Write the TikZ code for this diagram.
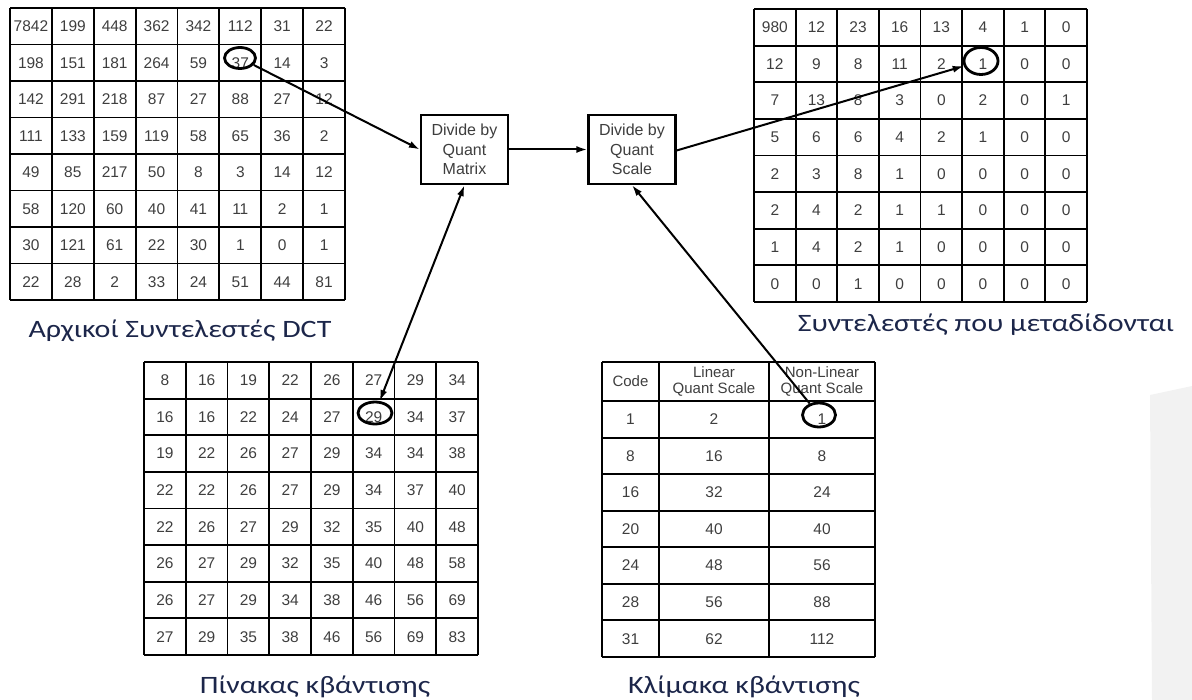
\documentclass[tikz,border=0pt]{standalone}
\usepackage{fontspec}
\setmainfont{Carlito}
\newfontfamily\cellfont{Liberation Sans}
\usetikzlibrary{arrows.meta,shapes.geometric}

\definecolor{captionblue}{RGB}{28,38,74}
\definecolor{digitgray}{RGB}{62,62,62}

\newcommand\widecap[1]{\scalebox{1.2}[1]{#1}}

\tikzset{
  gridline/.style={line width=1.9pt, black},
  cell/.style={font=\cellfont\fontsize{15.5}{17}\selectfont, text=digitgray, inner sep=0pt},
  headcell/.style={font=\cellfont\fontsize{15}{16.5}\selectfont, text=digitgray, inner sep=0pt, align=center},
  ring/.style={ellipse, draw, line width=2.8pt, inner sep=0pt},
  procbox/.style={draw, line width=2.3pt, minimum width=87pt, minimum height=69pt, inner sep=0pt,
    align=center, font=\cellfont\fontsize{16}{19.5}\selectfont, text=digitgray},
  conn/.style={line width=2pt, -{Latex[length=11pt,width=7pt]}},
  caption/.style={font=\fontsize{25}{29}\selectfont, text=captionblue, inner sep=0pt}
}

\begin{document}
\begin{tikzpicture}[x=1pt,y=-1pt]
\useasboundingbox (0,0) rectangle (1192,700);

% faint shadow at the right edge
\fill[black!5] (1150,395) -- (1192,386) -- (1192,700) -- (1152,700) -- cycle;

% ---------- original DCT coefficients ----------
\foreach \row [count=\r] in {
  {7842,199,448,362,342,112,31,22},
  {198,151,181,264,59,37,14,3},
  {142,291,218,87,27,88,27,12},
  {111,133,159,119,58,65,36,2},
  {49,85,217,50,8,3,14,12},
  {58,120,60,40,41,11,2,1},
  {30,121,61,22,30,1,0,1},
  {22,28,2,33,24,51,44,81}} {
  \foreach \v [count=\c] in \row {
    \node[cell] at ({10+(\c-0.5)*41.875},{8+(\r-0.5)*36.5}) {\v};
  }
}
\foreach \i in {0,...,8} {
  \draw[gridline] ({10+\i*41.875},8) -- ({10+\i*41.875},300);
  \draw[gridline] (10,{8+\i*36.5}) -- (345,{8+\i*36.5});
}

% ---------- transmitted coefficients ----------
\foreach \row [count=\r] in {
  {980,12,23,16,13,4,1,0},
  {12,9,8,11,2,1,0,0},
  {7,13,8,3,0,2,0,1},
  {5,6,6,4,2,1,0,0},
  {2,3,8,1,0,0,0,0},
  {2,4,2,1,1,0,0,0},
  {1,4,2,1,0,0,0,0},
  {0,0,1,0,0,0,0,0}} {
  \foreach \v [count=\c] in \row {
    \node[cell] at ({754+(\c-0.5)*41.625},{9+(\r-0.5)*36.625}) {\v};
  }
}
\foreach \i in {0,...,8} {
  \draw[gridline] ({754+\i*41.625},9) -- ({754+\i*41.625},302);
  \draw[gridline] (754,{9+\i*36.625}) -- (1087,{9+\i*36.625});
}

% ---------- quantiser matrix ----------
\foreach \row [count=\r] in {
  {8,16,19,22,26,27,29,34},
  {16,16,22,24,27,29,34,37},
  {19,22,26,27,29,34,34,38},
  {22,22,26,27,29,34,37,40},
  {22,26,27,29,32,35,40,48},
  {26,27,29,32,35,40,48,58},
  {26,27,29,34,38,46,56,69},
  {27,29,35,38,46,56,69,83}} {
  \foreach \v [count=\c] in \row {
    \node[cell] at ({144+(\c-0.5)*41.75},{362+(\r-0.5)*36.625}) {\v};
  }
}
\foreach \i in {0,...,8} {
  \draw[gridline] ({144+\i*41.75},362) -- ({144+\i*41.75},655);
  \draw[gridline] (144,{362+\i*36.625}) -- (478,{362+\i*36.625});
}

% ---------- quantiser scale table ----------
\node[headcell] at (630.5,381.5) {Code};
\node[headcell] at (714,381.5) {Linear\\Quant Scale};
\node[headcell] at (822,381.5) {Non-Linear\\Quant Scale};
\foreach \a/\b/\cc [count=\r] in {1/2/1,8/16/8,16/32/24,20/40/40,24/48/56,28/56/88,31/62/112} {
  \node[cell] at (630.5,{401+(\r-0.5)*36.57}) {\a};
  \node[cell] at (714,{401+(\r-0.5)*36.57}) {\b};
  \node[cell] at (822,{401+(\r-0.5)*36.57}) {\cc};
}
\foreach \xx in {602,659,769,875}
  \draw[gridline] (\xx,362) -- (\xx,657);
\draw[gridline] (602,362) -- (875,362);
\foreach \i in {0,...,7}
  \draw[gridline] (602,{401+\i*36.57}) -- (875,{401+\i*36.57});

% ---------- processing boxes ----------
\node[procbox, fill=white] (qm) at (464.5,149.5) {Divide by\\Quant\\Matrix};
\node[procbox, fill=white] (qs) at (632,149.5) {Divide by\\Quant\\Scale};

% ---------- highlighted entries ----------
\node[ring, minimum width=31pt, minimum height=21pt] (c37) at (240,58) {};
\node[ring, minimum width=34pt, minimum height=22pt] (c29) at (375,413) {};
\node[ring, minimum width=33pt, minimum height=24pt] (cnl) at (819,415) {};
\node[ring, minimum width=34pt, minimum height=27pt] (cout) at (981,61) {};

% ---------- connectors ----------
\draw[conn] (c37) -- (qm.west);
\draw[conn, {Latex[length=11pt,width=7pt]}-{Latex[length=11pt,width=7pt]}] (c29) -- (qm.south);
\draw[conn] (qm) -- (qs);
\draw[conn] (cnl) -- (qs.south);
\draw[conn] ([yshift=-1pt]qs.east) -- (cout);

% ---------- captions ----------
\node[caption, anchor=base] (capdct) at (180,338) {\widecap{Αρχικοί Συντελεστές DCT}};
\node[caption, anchor=base] (capout) at (986,332) {\widecap{Συντελεστές που μεταδίδονται}};
\node[caption, anchor=base] (capqm) at (315,693) {\widecap{Πίνακας κβάντισης}};
\node[caption, anchor=base] (capqs) at (744,693) {\widecap{Κλίμακα κβάντισης}};
\end{tikzpicture}
\end{document}
